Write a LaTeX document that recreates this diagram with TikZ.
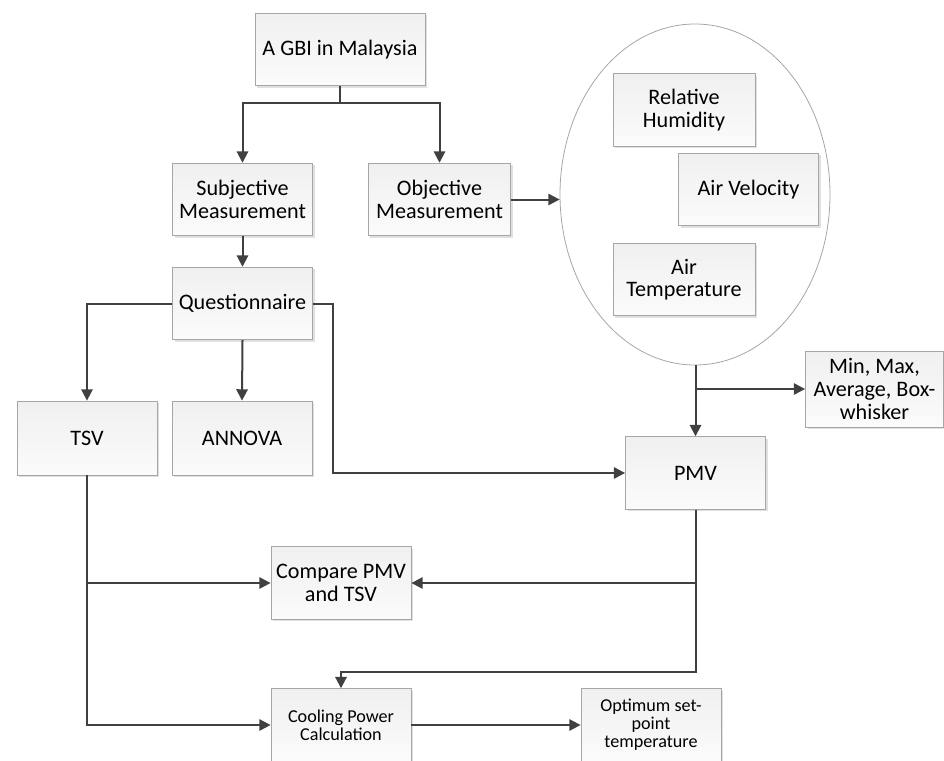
\documentclass[tikz,border=0pt]{standalone}
\usepackage{fontspec}
\setmainfont{Carlito}
\usepackage{tikz}
\usetikzlibrary{arrows.meta}
\usetikzlibrary{shadows}
\usetikzlibrary{shapes}
\tikzstyle{box}=[rectangle,draw=gray!70,line width=0.6pt,top color=gray!12,bottom color=gray!3,
  drop shadow={shadow xshift=1.5pt,shadow yshift=-1.5pt,fill=gray!40,opacity=0.6},
  align=center,inner sep=1pt,minimum width=105pt,minimum height=54.5pt,
  font=\fontsize{16.6}{17}\selectfont]
\tikzstyle{small}=[font=\fontsize{13.6}{13.6}\selectfont]
\tikzstyle{oval}=[ellipse,draw=gray!70,line width=0.6pt,minimum width=202.5pt,minimum height=255.75pt,inner sep=0pt]
\tikzstyle{arrow}=[->,>={Triangle[width=8.5pt,length=8.5pt]},draw=black!75,line width=1.5pt]
\tikzstyle{line}=[draw=black!75,line width=1.5pt]

\begin{document}
\begin{tikzpicture}[x=0.75pt,y=-0.75pt]
      \useasboundingbox (0,0) rectangle (944,760);
      \node[oval] at (695,194.5) (oval) {};
      \node[box,minimum width=127.5pt] at (340,49.5) (gbi) {A GBI in Malaysia};
      \node[box] at (242.5,199.5) (subj) {Subjective\\Measurement};
      \node[box,minimum width=107pt] at (439.5,199.5) (obj) {Objective\\Measurement};
      \node[box] at (242.5,303.5) (quest) {Questionnaire};
      \node[box,minimum height=55.5pt] at (87,438) (tsv) {TSV};
      \node[box,minimum height=55.5pt] at (242,438) (annova) {ANNOVA};
      \node[box,minimum width=106.5pt] at (684,110) (rh) {Relative\\Humidity};
      \node[box] at (748.5,189.5) (av) {Air Velocity};
      \node[box,minimum width=106.5pt] at (684,279.5) (at) {Air\\Temperature};
      \node[box,minimum width=103.5pt,minimum height=57pt] at (874.5,389) (minmax) {Min, Max,\\Average, Box-\\whisker};
      \node[box] at (695.5,473) (pmv) {PMV};
      \node[box] at (341,583) (compare) {Compare PMV\\and TSV};
      \node[box,small] at (341,725) (cooling) {Cooling Power\\Calculation};
      \node[box,small] at (651,725) (optimum) {Optimum set-\\point\\temperature};
      \coordinate (split) at (340,103);
      \draw[line] (gbi.south) -- (split);
      \draw[arrow] (split) -| (subj.north);
      \draw[arrow] (split) -| (obj.north);
      \draw[arrow] (subj.south) -- (quest.north);
      \draw[arrow] (obj.east) -- (obj.east -| oval.west);
      \draw[arrow] (quest.west) -| (tsv.north);
      \draw[arrow] (quest.south) -- (annova.north);
      \draw[arrow] (quest.east) -- ++(20,0) |- (pmv.west);
      \draw[arrow] (oval.south -| pmv.north) -- (pmv.north);
      \draw[arrow] (pmv.north |- minmax.west) -- (minmax.west);
      \draw[arrow] (pmv.south) -- ++(0,162) -| (cooling.north);
      \draw[arrow] (pmv.south |- compare.east) -- (compare.east);
      \draw[arrow] (tsv.south) |- (cooling.west);
      \draw[arrow] (tsv.south |- compare.west) -- (compare.west);
      \draw[arrow] (cooling.east) -- (optimum.west);
    \end{tikzpicture}
\end{document}
